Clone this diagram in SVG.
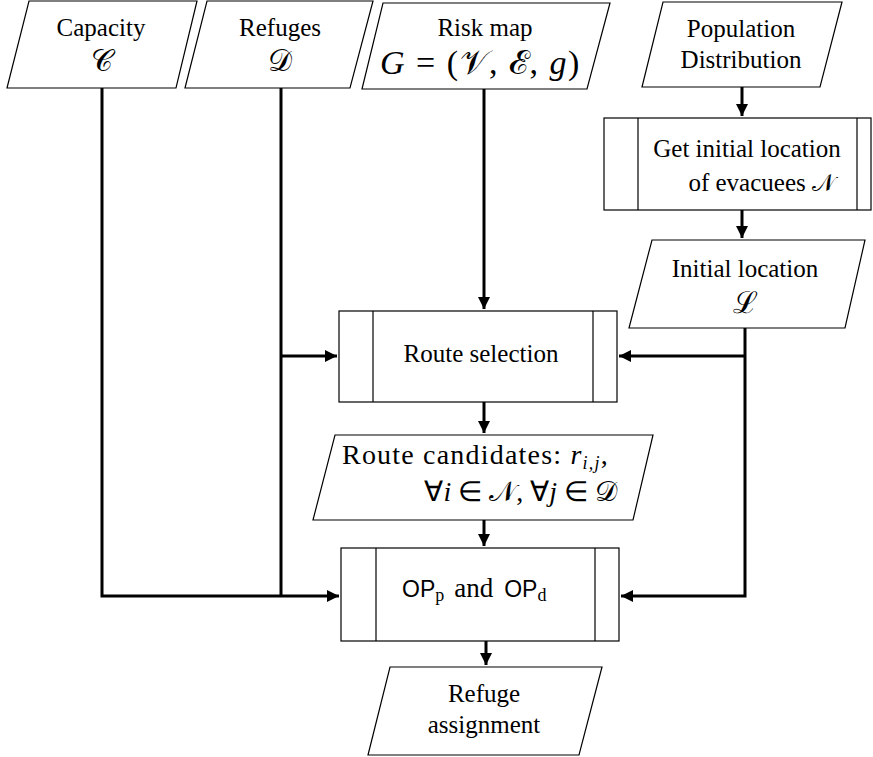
<svg xmlns="http://www.w3.org/2000/svg" width="873" height="757" viewBox="0 0 873 757">
<style>
.shape{fill:#fff;stroke:#000;stroke-width:1.2}
text{fill:#000}
.c{fill:none;stroke:#000;stroke-width:3}
.serif{font-family:'Liberation Serif','Times New Roman',serif}
.sans{font-family:'Liberation Sans',Arial,sans-serif}
</style>
<defs>
<marker id="ah" viewBox="0 0 10 10" refX="10" refY="5" markerWidth="4" markerHeight="4" orient="auto" markerUnits="strokeWidth">
<path d="M0,0 L10,5 L0,10 Z" fill="#000"/>
</marker>
</defs>
<rect width="873" height="757" fill="#fff"/>
<g class="serif" font-size="25" text-anchor="middle">
<g id="capacity">
<polygon class="shape" points="29,1 197,1 176,88 7,88"/>
<text x="101" y="36">Capacity</text>
<text x="102" y="71" font-size="30">𝒞</text>
</g>
<g id="refuges">
<polygon class="shape" points="207,1 373,1 350,88 185,88"/>
<text x="280" y="36">Refuges</text>
<text x="280" y="71" font-size="30">𝒟</text>
</g>
<g id="riskmap">
<polygon class="shape" points="383,3 610,3 587,89 362,89"/>
<text x="485" y="36">Risk map</text>
<text x="380" y="74" font-size="34" text-anchor="start" letter-spacing="1.5"><tspan font-style="italic">G</tspan> = (𝒱, ℰ, <tspan font-style="italic">g</tspan>)</text>
</g>
<g id="population">
<polygon class="shape" points="663,2 842,2 820,87 642,87"/>
<text x="741" y="37">Population</text>
<text x="741" y="68">Distribution</text>
</g>
<g id="getinitial">
<rect class="shape" x="604" y="118" width="267" height="92"/>
<line class="shape" x1="638" y1="118" x2="638" y2="210"/>
<line class="shape" x1="857" y1="118" x2="857" y2="210"/>
<text x="747" y="157">Get initial location</text>
<text x="835" y="191" text-anchor="end">of evacuees <tspan font-size="24">𝒩</tspan></text>
</g>
<g id="initiallocation">
<polygon class="shape" points="652,240 865,240 845,328 629,328"/>
<text x="745" y="277">Initial location</text>
<text x="745" y="313" font-size="30">ℒ</text>
</g>
<g id="routeselection">
<rect class="shape" x="339" y="311" width="278" height="91"/>
<line class="shape" x1="373" y1="311" x2="373" y2="402"/>
<line class="shape" x1="593" y1="311" x2="593" y2="402"/>
<text x="481" y="362">Route selection</text>
</g>
<g id="routecandidates">
<polygon class="shape" points="335,435 653,435 633,520 313,520"/>
<text x="342" y="464" text-anchor="start" font-size="28" letter-spacing="1.2">Route candidates: <tspan font-style="italic">r</tspan><tspan font-size="18" dy="5" font-style="italic">i,j</tspan><tspan dy="-5">,</tspan></text>
<text x="617" y="501" text-anchor="end" font-size="28">∀<tspan font-style="italic">i</tspan> ∈ 𝒩, ∀<tspan font-style="italic">j</tspan> ∈ 𝒟</text>
</g>
<g id="op">
<rect class="shape" x="341" y="548" width="278" height="93"/>
<line class="shape" x1="376" y1="548" x2="376" y2="641"/>
<line class="shape" x1="595" y1="548" x2="595" y2="641"/>
<text x="402" y="597" font-size="27" text-anchor="start"><tspan class="sans" font-size="23">OP</tspan><tspan font-size="18" dy="4">p</tspan><tspan dy="-4" dx="10">and</tspan><tspan dx="11" class="sans" font-size="23">OP</tspan><tspan font-size="18" dy="4">d</tspan></text>
</g>
<g id="refugeassignment">
<polygon class="shape" points="390,667 602,667 579,755 368,755"/>
<text x="484" y="702">Refuge</text>
<text x="484" y="733">assignment</text>
</g>
</g>
<g id="connectors">
<polyline class="c" points="102,88 102,596 339,596" marker-end="url(#ah)"/>
<polyline class="c" points="281,88 281,596"/>
<line class="c" x1="281" y1="356" x2="337" y2="356" marker-end="url(#ah)"/>
<line class="c" x1="484" y1="89" x2="484" y2="309" marker-end="url(#ah)"/>
<line class="c" x1="742" y1="87" x2="742" y2="116" marker-end="url(#ah)"/>
<line class="c" x1="742" y1="210" x2="742" y2="238" marker-end="url(#ah)"/>
<polyline class="c" points="745,328 745,596 621,596" marker-end="url(#ah)"/>
<line class="c" x1="745" y1="356" x2="619" y2="356" marker-end="url(#ah)"/>
<line class="c" x1="484" y1="402" x2="484" y2="433" marker-end="url(#ah)"/>
<line class="c" x1="484" y1="520" x2="484" y2="546" marker-end="url(#ah)"/>
<line class="c" x1="486" y1="641" x2="486" y2="665" marker-end="url(#ah)"/>
</g>
</svg>
